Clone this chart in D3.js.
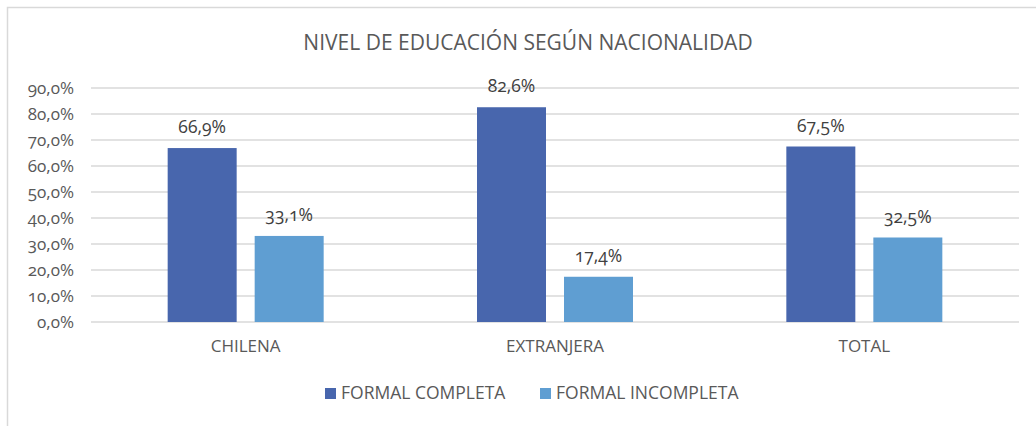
<!DOCTYPE html>
<meta charset="utf-8" />
<style>
  body { margin: 0; background: #fff; }
  text { font-family: "Open Sans", Lato, sans-serif; fill: #595959; font-variant-numeric: oldstyle-nums; }
</style>
<svg width="1036" height="426"></svg>
<script src="https://d3js.org/d3.v7.min.js"></script>
<script>
  // data
  var categories = ["CHILENA", "EXTRANJERA", "TOTAL"];
  var series = ["FORMAL COMPLETA", "FORMAL INCOMPLETA"];
  var completa = [66.9, 82.6, 67.5];
  var incompleta = [33.1, 17.4, 32.5];
  var yTicks = [0, 10, 20, 30, 40, 50, 60, 70, 80, 90];
  var colors = ["#4866ad", "#5f9ed2"];

  var svg = d3.select("svg");
  var fmt = function(v) { return v.toFixed(1).replace(".", ",") + "%"; };

  // chart frame (left + top edges only visible)
  svg.append("path")
    .attr("d", "M7.5,426V7.5H1036")
    .attr("fill", "none")
    .attr("stroke", "#d9d9d9")
    .attr("stroke-width", 1.5);

  var x0 = d3.scaleBand().domain(categories).range([91, 1019]);
  var x1 = d3.scaleBand().domain(series).range([0, 156]).paddingInner(0.207);
  var y = d3.scaleLinear().domain([0, 90]).range([322, 88]);

  // gridlines
  svg.append("g")
    .selectAll("line")
    .data(yTicks)
    .enter()
    .append("line")
    .attr("x1", 91)
    .attr("x2", 1019)
    .attr("y1", d => y(d))
    .attr("y2", d => y(d))
    .attr("stroke", "#d9d9d9")
    .attr("stroke-width", 1.3);

  // y tick labels
  svg.append("g")
    .selectAll("text")
    .data(yTicks)
    .enter()
    .append("text")
    .attr("x", 74)
    .attr("y", d => y(d) + 5.5)
    .attr("text-anchor", "end")
    .style("font-size", "17px")
    .text(fmt);

  var rows = [];
  categories.forEach(function(c, i) {
    rows.push({ cat: c, s: series[0], v: completa[i], k: 0 });
    rows.push({ cat: c, s: series[1], v: incompleta[i], k: 1 });
  });

  var off = (x0.bandwidth() - 156) / 2;

  svg.append("g")
    .selectAll("rect")
    .data(rows)
    .enter()
    .append("rect")
    .attr("x", d => x0(d.cat) + off + x1(d.s))
    .attr("width", x1.bandwidth())
    .attr("y", d => y(d.v))
    .attr("height", d => y(0) - y(d.v))
    .attr("fill", d => colors[d.k]);

  // value labels
  svg.append("g")
    .selectAll("text")
    .data(rows)
    .enter()
    .append("text")
    .attr("x", d => x0(d.cat) + off + x1(d.s) + x1.bandwidth() / 2)
    .attr("y", d => y(d.v) - 15)
    .attr("text-anchor", "middle")
    .style("font-size", "17.5px")
    .style("fill", "#404040")
    .text(d => fmt(d.v));

  // category labels
  svg.append("g")
    .selectAll("text")
    .data(categories)
    .enter()
    .append("text")
    .attr("x", d => x0(d) + x0.bandwidth() / 2)
    .attr("y", 352)
    .attr("text-anchor", "middle")
    .style("font-size", "17px")
    .text(d => d);

  // title
  svg.append("text")
    .attr("x", 528)
    .attr("y", 50)
    .attr("text-anchor", "middle")
    .style("font-size", "21px")
    .text("NIVEL DE EDUCACIÓN SEGÚN NACIONALIDAD");

  // legend
  var legendX = [325, 540];
  var legend = svg.append("g")
    .selectAll("g")
    .data(series)
    .enter()
    .append("g")
    .attr("transform", (d, i) => "translate(" + legendX[i] + ",388)");
  legend.append("rect")
    .attr("width", 11)
    .attr("height", 11)
    .attr("fill", (d, i) => colors[i]);
  legend.append("text")
    .attr("x", 16)
    .attr("y", 10.5)
    .style("font-size", "17.5px")
    .text(d => d);
</script>
